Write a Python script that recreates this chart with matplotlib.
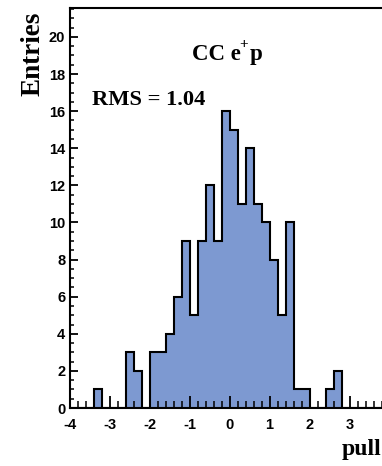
import numpy as np
import matplotlib
matplotlib.use("Agg")
import matplotlib.pyplot as plt
from matplotlib.ticker import MultipleLocator

# Histogram of pulls: 40 bins of width 0.2 between -4 and 4
bin_lo = -4.0
bin_hi = 4.0
n_bins = 40
counts = [0, 0, 0, 1, 0, 0, 0, 3, 2, 0,
          3, 3, 4, 6, 9, 5, 9, 12, 9, 16,
          15, 11, 14, 11, 10, 8, 5, 10, 1, 1,
          0, 0, 1, 2, 0, 0, 0, 0, 0, 0]
x_ticks = [-4, -3, -2, -1, 0, 1, 2, 3]
y_ticks = [0, 2, 4, 6, 8, 10, 12, 14, 16, 18, 20]
y_max = 21.56

title_parts = ["CC e", "+", "p"]
rms_text = "RMS = 1.04"
x_title = "pull"
y_title = "Entries"

W, H = 382, 466
fig = plt.figure(figsize=(W / 100, H / 100), dpi=100)
fig.patch.set_facecolor("white")

left, bottom, top = 69.5, 408.0, 8.0
ax = fig.add_axes([left / W, (H - bottom) / H, 320 / W, (bottom - top) / H])

edges = np.linspace(bin_lo, bin_hi, n_bins + 1)
fill_color = "#7d99d1"
ax.stairs(counts, edges, fill=True, facecolor=fill_color, edgecolor="none",
          linewidth=0, zorder=1)
ax.stairs(counts, edges, fill=False, baseline=0, color="black",
          linewidth=1.5, zorder=2)

ax.set_xlim(bin_lo, bin_hi)
ax.set_ylim(0, y_max)

ax.set_xticks(x_ticks)
ax.set_yticks(y_ticks)
ax.xaxis.set_minor_locator(MultipleLocator(0.2))
ax.yaxis.set_minor_locator(MultipleLocator(0.5))

tick_font = dict(family="Liberation Sans", size=10.5, weight="bold")
ax.set_xticklabels([str(v) for v in x_ticks], fontdict=tick_font)
ax.set_yticklabels([str(v) for v in y_ticks], fontdict=tick_font)

ax.tick_params(axis="x", which="major", direction="in", length=9, width=1.3,
               pad=7, top=False)
ax.tick_params(axis="x", which="minor", direction="in", length=5, width=1.1,
               top=False)
ax.tick_params(axis="y", which="major", direction="in", length=6, width=1.3,
               pad=3, right=False)
ax.tick_params(axis="y", which="minor", direction="in", length=3, width=1.1,
               right=False)

for s in ax.spines.values():
    s.set_linewidth(1.5)
    s.set_color("black")

serif_bold = dict(family="Liberation Serif", weight="bold", color="black")

# Title "CC e+p" with a raised plus sign
fig.text(192 / W, 1 - 60 / H, title_parts[0], ha="left", va="baseline",
         fontsize=16.5, **serif_bold)
fig.text(239.5 / W, 1 - 48 / H, title_parts[1], ha="left", va="baseline",
         fontsize=11, **serif_bold)
fig.text(249.5 / W, 1 - 60 / H, title_parts[2], ha="left", va="baseline",
         fontsize=16.5, **serif_bold)

fig.text(92 / W, 1 - 105 / H, rms_text, ha="left", va="baseline",
         fontsize=16.2, **serif_bold)
fig.text(342 / W, 1 - 455 / H, x_title, ha="left", va="baseline",
         fontsize=17, **serif_bold)
fig.text(33 / W, 1 - 12 / H, y_title, ha="center", va="top", rotation=90,
         fontsize=19.5, **serif_bold)

fig.savefig("out.png", dpi=100)
